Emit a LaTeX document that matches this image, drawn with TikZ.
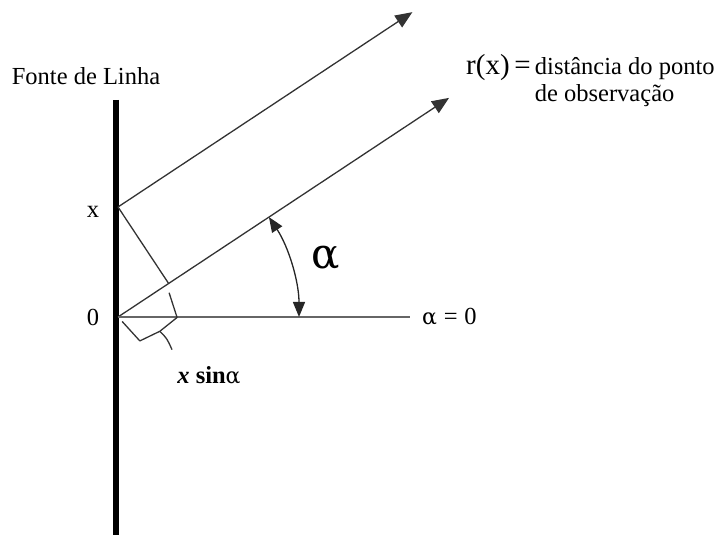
\documentclass[tikz,border=0pt]{standalone}
\usepackage{fontspec}
\setmainfont{Liberation Serif}
\newfontfamily\grk{DejaVu Serif}
\usetikzlibrary{arrows.meta,calc}

\begin{document}
\begin{tikzpicture}[
  x=1pt, y=1pt,
  lbl/.style={font=\fontsize{24.5}{27}\selectfont, inner sep=0pt},
  fonte/.style={line width=6.5pt, black},
  ray/.style={-{Triangle[length=17pt,width=14pt]}, line width=1.3pt, black!80},
  thin/.style={line width=1.3pt, black!80},
  base/.style={line width=1.3pt, black!60},
  angarr/.style={{Triangle[length=15pt,width=12pt]}-{Triangle[length=15pt,width=12pt]}, line width=1.3pt, black!85},
]
\useasboundingbox (0,0) rectangle (728,535);

% ---------------- points
\coordinate (o)    at (118,218);
\coordinate (xp)   at (118,328);
\coordinate (ltop) at (116,435);
\coordinate (lbot) at (116,0);
\coordinate (lowtip) at ($(o)+(33.5:397)$);
\coordinate (uptip)  at ($(xp)+(33.5:353)$);
\coordinate (hend) at (410,218);
\coordinate (foot) at ($(o)!(xp)!(lowtip)$);

% ---------------- line source and rays
\draw[fonte] (ltop) -- (lbot);
\draw[ray] (xp) -- (uptip);
\draw[ray] (o) -- (lowtip);
\draw[base] (o) -- (hend);
\draw[thin] (xp) -- (foot);
\draw[angarr] ([shift={(0:181)}]o) arc[start angle=0, end angle=33.5, radius=181];

% ---------------- brace for x sin(alpha)
\begin{scope}[shift={(o)}, rotate=33.5]
  \draw[thin, line join=round] (1,-6) -- (5,-32) -- (27,-35) -- (49,-33) -- (56,-8);
  \draw[thin] (27,-35) .. controls (29,-45) .. (27,-57);
\end{scope}

% ---------------- labels
\node[lbl] (fonte) at (86,459) {Fonte de Linha};
\node[lbl] (lblx) at (93,323) {x};
\node[lbl] (lblzero) at (93,218) {0};
\node[lbl, anchor=west] (alfazero) at (422,218) {{\grk\fontsize{22}{22}\selectfont α}\;=\;0};
\node[lbl, font=\grk\fontsize{42}{42}\selectfont] (alfa) at (326,277) {α};
\node[lbl] (xsin) at (209,160) {\textbf{\textit{x} sin}{\grk\fontsize{22}{22}\selectfont α}};
\node[lbl, anchor=north west] (rdist) at (466,481) {%
  \begin{tabular}{@{}l@{\,}l@{}}
  \fontsize{29}{27}\selectfont r(x)\,= & distância do ponto\\
  & de observação
  \end{tabular}};

\end{tikzpicture}
\end{document}
